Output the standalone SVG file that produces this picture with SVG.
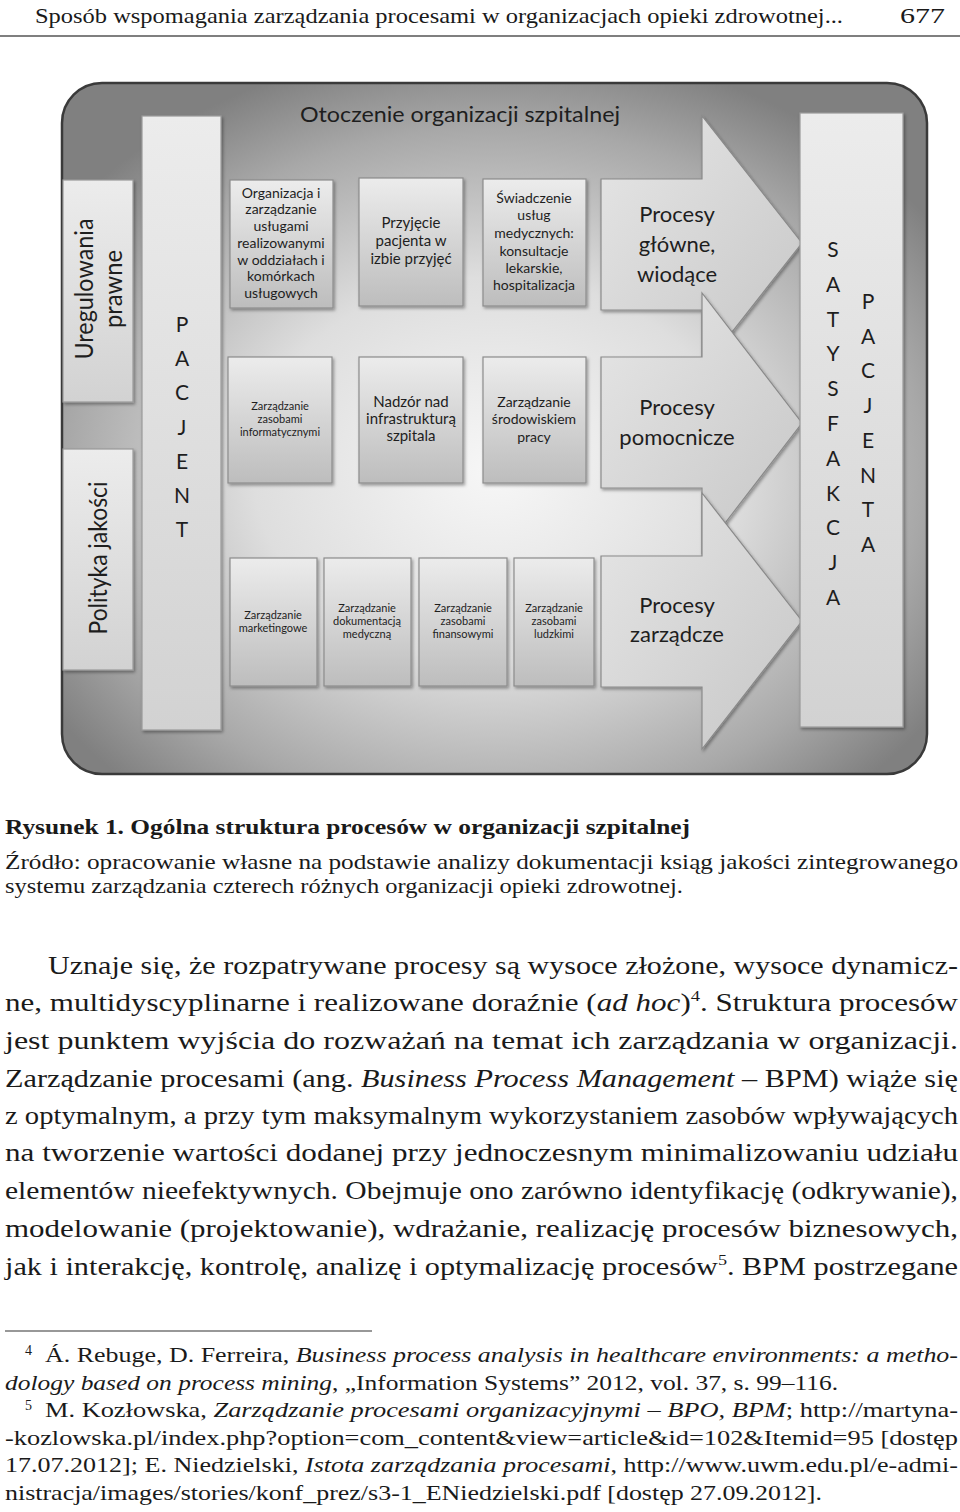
<svg xmlns="http://www.w3.org/2000/svg" width="960" height="1512" viewBox="0 0 960 1512">
<defs>
<radialGradient id="panelG" cx="0.5" cy="0.56" r="0.62">
<stop offset="0" stop-color="#f7f7f7"/>
<stop offset="0.45" stop-color="#dedede"/>
<stop offset="0.8" stop-color="#a8a8a8"/>
<stop offset="1" stop-color="#808080"/>
</radialGradient>
<linearGradient id="boxG" x1="0" y1="0" x2="0" y2="1">
<stop offset="0" stop-color="#ececec"/>
<stop offset="1" stop-color="#bdbdbd"/>
</linearGradient>
<linearGradient id="tallG" x1="0" y1="0" x2="0" y2="1">
<stop offset="0" stop-color="#ececec"/>
<stop offset="1" stop-color="#d2d2d2"/>
</linearGradient>
<linearGradient id="arrowG" x1="0" y1="0" x2="1" y2="1">
<stop offset="0" stop-color="#e6e6e6"/>
<stop offset="1" stop-color="#c6c6c6"/>
</linearGradient>
<filter id="sh" x="-10%" y="-10%" width="130%" height="130%">
<feDropShadow dx="1.5" dy="2" stdDeviation="1.5" flood-color="#000" flood-opacity="0.35"/>
</filter>
</defs>
<style>
.box{fill:url(#boxG);stroke:#8c8c8c;stroke-width:1.2;filter:url(#sh)}
.tall{fill:url(#tallG);stroke:#9a9a9a;stroke-width:1.2;filter:url(#sh)}
.arr{fill:url(#arrowG);stroke:#8a8a8a;stroke-width:1.2;filter:url(#sh)}
.d{font-family:Lato,"Open Sans","Liberation Sans",sans-serif;fill:#1e1e1e;text-anchor:middle}
.s{font-size:14px}
.xs{font-size:11px}
.m{font-size:15px}
.big{font-size:22px}
.let{font-size:21px}
.rot{font-size:25px}
.t{font-family:"Liberation Serif","Times New Roman",serif;fill:#1a1a1a}
.b{font-size:25px}
.fn{font-size:21px}
.i{font-style:italic}
</style>
<rect width="960" height="1512" fill="#ffffff"/>

<g id="page-header">
<text class="t" x="35" y="23" font-size="21" textLength="808" lengthAdjust="spacingAndGlyphs">Sposób wspomagania zarządzania procesami w organizacjach opieki zdrowotnej...</text>
<text class="t" x="900" y="23" font-size="21" textLength="45" lengthAdjust="spacingAndGlyphs">677</text>
<line x1="0" y1="36" x2="960" y2="36" stroke="#555" stroke-width="1.5"/>
</g>

<g id="panel">
<rect x="62" y="83" width="865" height="691" rx="40" ry="40" fill="url(#panelG)" stroke="#3a3a3a" stroke-width="2.5"/>
<text class="d" x="460" y="122" font-size="21" textLength="320" lengthAdjust="spacingAndGlyphs">Otoczenie organizacji szpitalnej</text>
</g>

<g id="node-uregulowania">
<rect class="tall" x="63" y="180" width="70" height="222"/>
<g transform="translate(98,289) rotate(-90)">
<text class="d rot" x="0" y="-5" textLength="141" lengthAdjust="spacingAndGlyphs">Uregulowania</text>
<text class="d rot" x="0" y="24" textLength="78" lengthAdjust="spacingAndGlyphs">prawne</text>
</g>
</g>

<g id="node-polityka">
<rect class="tall" x="63" y="449" width="70" height="221"/>
<g transform="translate(98,558) rotate(-90)">
<text class="d rot" x="0" y="9" textLength="153" lengthAdjust="spacingAndGlyphs">Polityka jakości</text>
</g>
</g>

<g id="node-pacjent-left">
<rect class="tall" x="142" y="116" width="79" height="614"/>
<text class="d let" x="182" y="332">P</text>
<text class="d let" x="182" y="366">A</text>
<text class="d let" x="182" y="400">C</text>
<text class="d let" x="182" y="435">J</text>
<text class="d let" x="182" y="469">E</text>
<text class="d let" x="182" y="503">N</text>
<text class="d let" x="182" y="537">T</text>
</g>

<g id="node-organizacja">
<rect class="box" x="230" y="180" width="103" height="128"/>
<text class="d s" x="281" y="198">Organizacja i</text>
<text class="d s" x="281" y="214">zarządzanie</text>
<text class="d s" x="281" y="231">usługami</text>
<text class="d s" x="281" y="248">realizowanymi</text>
<text class="d s" x="281" y="265">w oddziałach i</text>
<text class="d s" x="281" y="281">komórkach</text>
<text class="d s" x="281" y="298">usługowych</text>
</g>

<g id="node-przyjecie">
<rect class="box" x="359" y="178" width="104" height="128"/>
<text class="d m" x="411" y="228">Przyjęcie</text>
<text class="d m" x="411" y="246">pacjenta w</text>
<text class="d m" x="411" y="264">izbie przyjęć</text>
</g>

<g id="node-swiadczenie">
<rect class="box" x="483" y="179" width="103" height="127"/>
<text class="d s" x="534" y="203">Świadczenie</text>
<text class="d s" x="534" y="220">usług</text>
<text class="d s" x="534" y="238">medycznych:</text>
<text class="d s" x="534" y="256">konsultacje</text>
<text class="d s" x="534" y="273">lekarskie,</text>
<text class="d s" x="534" y="290">hospitalizacja</text>
</g>

<g id="node-informatyczne">
<rect class="box" x="228" y="357" width="104" height="126"/>
<text class="d xs" x="280" y="410">Zarządzanie</text>
<text class="d xs" x="280" y="423">zasobami</text>
<text class="d xs" x="280" y="436">informatycznymi</text>
</g>

<g id="node-nadzor">
<rect class="box" x="359" y="357" width="104" height="126"/>
<text class="d m" x="411" y="407">Nadzór nad</text>
<text class="d m" x="411" y="424">infrastrukturą</text>
<text class="d m" x="411" y="441">szpitala</text>
</g>

<g id="node-srodowisko">
<rect class="box" x="483" y="357" width="103" height="126"/>
<text class="d s" x="534" y="407">Zarządzanie</text>
<text class="d s" x="534" y="424">środowiskiem</text>
<text class="d s" x="534" y="442">pracy</text>
</g>

<g id="node-marketing">
<rect class="box" x="230" y="558" width="87" height="128"/>
<text class="d xs" x="273" y="619">Zarządzanie</text>
<text class="d xs" x="273" y="632">marketingowe</text>
</g>

<g id="node-dokumentacja">
<rect class="box" x="324" y="558" width="87" height="128"/>
<text class="d xs" x="367" y="612">Zarządzanie</text>
<text class="d xs" x="367" y="625">dokumentacją</text>
<text class="d xs" x="367" y="638">medyczną</text>
</g>

<g id="node-finanse">
<rect class="box" x="419" y="558" width="88" height="128"/>
<text class="d xs" x="463" y="612">Zarządzanie</text>
<text class="d xs" x="463" y="625">zasobami</text>
<text class="d xs" x="463" y="638">finansowymi</text>
</g>

<g id="node-ludzkie">
<rect class="box" x="514" y="558" width="80" height="128"/>
<text class="d xs" x="554" y="612">Zarządzanie</text>
<text class="d xs" x="554" y="625">zasobami</text>
<text class="d xs" x="554" y="638">ludzkimi</text>
</g>

<g id="connectors">
<g id="arrow-glowne">
<polygon class="arr" points="601,179 702,179 702,116 802,243 702,370 702,310 601,310"/>
<text class="d big" x="677" y="222">Procesy</text>
<text class="d big" x="677" y="252">główne,</text>
<text class="d big" x="677" y="282">wiodące</text>
</g>
<g id="arrow-pomocnicze">
<polygon class="arr" points="601,357 702,357 702,293 802,423 702,553 702,488 601,488"/>
<text class="d big" x="677" y="415">Procesy</text>
<text class="d big" x="677" y="445">pomocnicze</text>
</g>
<g id="arrow-zarzadcze">
<polygon class="arr" points="601,556 702,556 702,493 802,621 702,749 702,687 601,687"/>
<text class="d big" x="677" y="613">Procesy</text>
<text class="d big" x="677" y="642">zarządcze</text>
</g>
</g>

<g id="node-satysfakcja">
<rect class="tall" x="800" y="113" width="103" height="614"/>
<text class="d let" x="833" y="257">S</text>
<text class="d let" x="833" y="292">A</text>
<text class="d let" x="833" y="327">T</text>
<text class="d let" x="833" y="361">Y</text>
<text class="d let" x="833" y="396">S</text>
<text class="d let" x="833" y="431">F</text>
<text class="d let" x="833" y="466">A</text>
<text class="d let" x="833" y="501">K</text>
<text class="d let" x="833" y="535">C</text>
<text class="d let" x="833" y="570">J</text>
<text class="d let" x="833" y="605">A</text>
<text class="d let" x="868" y="309">P</text>
<text class="d let" x="868" y="344">A</text>
<text class="d let" x="868" y="378">C</text>
<text class="d let" x="868" y="413">J</text>
<text class="d let" x="868" y="448">E</text>
<text class="d let" x="868" y="483">N</text>
<text class="d let" x="868" y="517">T</text>
<text class="d let" x="868" y="552">A</text>
</g>

<g id="caption">
<text class="t" x="5" y="834" font-size="22" font-weight="bold" textLength="685" lengthAdjust="spacingAndGlyphs">Rysunek 1. Ogólna struktura procesów w organizacji szpitalnej</text>
<text class="t" x="5" y="869" font-size="21" textLength="953" lengthAdjust="spacingAndGlyphs">Źródło: opracowanie własne na podstawie analizy dokumentacji ksiąg jakości zintegrowanego</text>
<text class="t" x="5" y="893" font-size="21" textLength="678" lengthAdjust="spacingAndGlyphs">systemu zarządzania czterech różnych organizacji opieki zdrowotnej.</text>
</g>

<g id="body-text">
<text class="t b" x="48" y="974" textLength="910" lengthAdjust="spacingAndGlyphs">Uznaje się, że rozpatrywane procesy są wysoce złożone, wysoce dynamicz-</text>
<text class="t b" x="5" y="1011" textLength="953" lengthAdjust="spacingAndGlyphs">ne, multidyscyplinarne i realizowane doraźnie (<tspan class="i">ad hoc</tspan>)<tspan font-size="15" dy="-10">4</tspan><tspan dy="10">. Struktura procesów</tspan></text>
<text class="t b" x="5" y="1049" textLength="953" lengthAdjust="spacingAndGlyphs">jest punktem wyjścia do rozważań na temat ich zarządzania w organizacji.</text>
<text class="t b" x="5" y="1087" textLength="953" lengthAdjust="spacingAndGlyphs">Zarządzanie procesami (ang. <tspan class="i">Business Process Management</tspan> – BPM) wiąże się</text>
<text class="t b" x="5" y="1124" textLength="953" lengthAdjust="spacingAndGlyphs">z optymalnym, a przy tym maksymalnym wykorzystaniem zasobów wpływających</text>
<text class="t b" x="5" y="1161" textLength="953" lengthAdjust="spacingAndGlyphs">na tworzenie wartości dodanej przy jednoczesnym minimalizowaniu udziału</text>
<text class="t b" x="5" y="1199" textLength="953" lengthAdjust="spacingAndGlyphs">elementów nieefektywnych. Obejmuje ono zarówno identyfikację (odkrywanie),</text>
<text class="t b" x="5" y="1237" textLength="953" lengthAdjust="spacingAndGlyphs">modelowanie (projektowanie), wdrażanie, realizację procesów biznesowych,</text>
<text class="t b" x="5" y="1275" textLength="953" lengthAdjust="spacingAndGlyphs">jak i interakcję, kontrolę, analizę i optymalizację procesów<tspan font-size="15" dy="-10">5</tspan><tspan dy="10">. BPM postrzegane</tspan></text>
</g>

<g id="footnotes">
<line x1="5" y1="1331" x2="372" y2="1331" stroke="#333" stroke-width="1.2"/>
<text class="t" x="25" y="1355" font-size="14">4</text>
<text class="t fn" x="45" y="1362" textLength="913" lengthAdjust="spacingAndGlyphs">Á. Rebuge, D. Ferreira, <tspan class="i">Business process analysis in healthcare environments: a metho-</tspan></text>
<text class="t fn" x="5" y="1390" textLength="833" lengthAdjust="spacingAndGlyphs"><tspan class="i">dology based on process mining</tspan>, „Information Systems” 2012, vol. 37, s. 99–116.</text>
<text class="t" x="25" y="1410" font-size="14">5</text>
<text class="t fn" x="45" y="1417" textLength="913" lengthAdjust="spacingAndGlyphs">M. Kozłowska, <tspan class="i">Zarządzanie procesami organizacyjnymi – BPO, BPM</tspan>; http://martyna-</text>
<text class="t fn" x="5" y="1445" textLength="953" lengthAdjust="spacingAndGlyphs">-kozlowska.pl/index.php?option=com_content&amp;view=article&amp;id=102&amp;Itemid=95 [dostęp</text>
<text class="t fn" x="5" y="1472" textLength="953" lengthAdjust="spacingAndGlyphs">17.07.2012]; E. Niedzielski, <tspan class="i">Istota zarządzania procesami</tspan>, http://www.uwm.edu.pl/e-admi-</text>
<text class="t fn" x="5" y="1500" textLength="817" lengthAdjust="spacingAndGlyphs">nistracja/images/stories/konf_prez/s3-1_ENiedzielski.pdf [dostęp 27.09.2012].</text>
</g>
</svg>
